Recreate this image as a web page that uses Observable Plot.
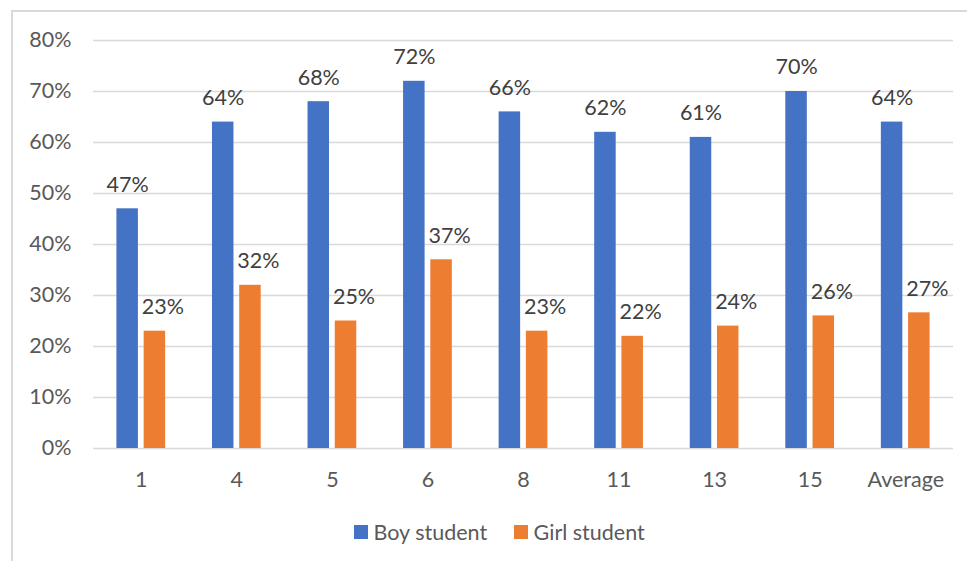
<!DOCTYPE html>
<html>
<head>
<meta charset="utf-8">
<script src="https://cdn.jsdelivr.net/npm/d3@7"></script>
<script src="https://cdn.jsdelivr.net/npm/@observablehq/plot@0.6"></script>
<style>
  html, body { margin: 0; padding: 0; background: #fff; }
  #chart {
    position: relative;
    width: 967px;
    height: 561px;
    overflow: hidden;
    font-family: Lato, "Open Sans", sans-serif;
    color: #595959;
  }
  #frame {
    position: absolute;
    left: 11px;
    top: 10px;
    right: -2px;
    bottom: -2px;
    border-top: 2px solid #d9d9d9;
    border-left: 2px solid #d9d9d9;
    pointer-events: none;
  }
  #plot { position: absolute; left: 0; top: 0; }
  #legend {
    position: absolute;
    left: 354px;
    top: 519px;
    display: flex;
    align-items: center;
    font-size: 21.5px;
    line-height: 26px;
  }
  .item { display: flex; align-items: center; margin-right: 27px; }
  .swatch { width: 13.5px; height: 13.5px; margin-right: 6px; }
</style>
</head>
<body>
<div id="chart">
  <div id="frame"></div>
  <div id="plot"></div>
  <div id="legend"></div>
</div>
<script>
// School categories along the x axis
const categories = ["1", "4", "5", "6", "8", "11", "13", "15", "Average"];
// Share of students per school
const boyValues = [0.47, 0.64, 0.68, 0.72, 0.66, 0.62, 0.61, 0.70, 0.64];
const girlValues = [0.23, 0.32, 0.25, 0.37, 0.23, 0.22, 0.24, 0.26, 0.266];
// Series names and colours
const seriesNames = ["Boy student", "Girl student"];
const seriesColors = ["#4472C4", "#ED7D31"];
// Y axis tick values
const yTicks = [0, 0.1, 0.2, 0.3, 0.4, 0.5, 0.6, 0.7, 0.8];

const boys = categories.map((c, i) => ({category: c, series: seriesNames[0], value: boyValues[i]}));
const girls = categories.map((c, i) => ({category: c, series: seriesNames[1], value: girlValues[i]}));

const pct = d3.format(".0%");
const barWidth = 21.5;

const width = 967, height = 505;
const marginLeft = 93, marginRight = 14;
const x = {domain: categories, paddingInner: 0.49, paddingOuter: 0.245, round: false};
const bandwidth = (width - marginLeft - marginRight) / (categories.length - x.paddingInner + 2 * x.paddingOuter) * (1 - x.paddingInner);
const inset = bandwidth - barWidth;
const shift = (bandwidth - barWidth) / 2;

const chart = Plot.plot({
  width, height,
  marginLeft, marginRight,
  marginTop: 40,
  marginBottom: 57,
  style: {fontFamily: "Lato, 'Open Sans', sans-serif", fontSize: "21.5px", color: "#595959", background: "transparent"},
  x: {...x, label: null, tickSize: 0, tickPadding: 23},
  y: {domain: [0, 0.8], ticks: yTicks, tickFormat: pct, tickSize: 0, tickPadding: 22, label: null},
  color: {domain: seriesNames, range: seriesColors},
  marks: [
    Plot.ruleY(yTicks, {stroke: "#d9d9d9", strokeWidth: 1.3}),
    Plot.barY(boys, {x: "category", y: "value", fill: "series", insetRight: inset}),
    Plot.barY(girls, {x: "category", y: "value", fill: "series", insetLeft: inset}),
    Plot.text(boys, {x: "category", y: "value", text: d => pct(d.value), dx: -shift, dy: -24, fill: "#404040"}),
    Plot.text(girls, {x: "category", y: "value", text: d => pct(d.value), dx: shift + 8, dy: -24, fill: "#404040"})
  ]
});
document.getElementById("plot").appendChild(chart);

// Legend below the plot
const legend = d3.select("#legend");
seriesNames.forEach((name, i) => {
  const item = legend.append("div").attr("class", "item");
  item.append("div").attr("class", "swatch").style("background", seriesColors[i]);
  item.append("span").text(name);
});
</script>
</body>
</html>
